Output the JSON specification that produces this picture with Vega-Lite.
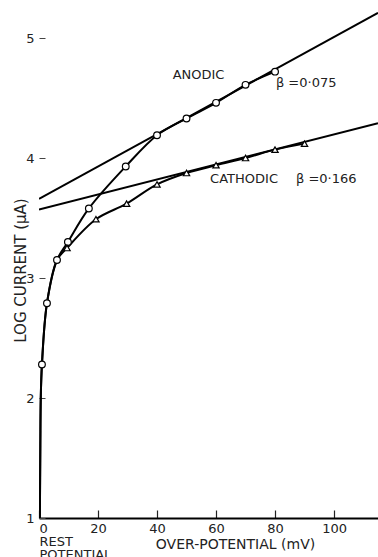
{
  "$schema": "https://vega.github.io/schema/vega-lite/v6.json",
  "width": 339,
  "height": 506,
  "autosize": "none",
  "padding": {"left": 39, "top": 12, "right": 0, "bottom": 39},
  "background": "white",
  "config": {"view": {"stroke": null}, "font": "DejaVu Sans"},
  "datasets": {
    "tafel": [
      {"series": "anodic", "mv": 0, "logI": 3.66},
      {"series": "anodic", "mv": 114.9, "logI": 5.21},
      {"series": "cathodic", "mv": 0, "logI": 3.57},
      {"series": "cathodic", "mv": 114.9, "logI": 4.29}
    ],
    "curves": [
      {"series": "anodic", "mv": 0.3, "logI": 1.0},
      {"series": "anodic", "mv": 0.45, "logI": 1.6},
      {"series": "anodic", "mv": 0.6, "logI": 2.0},
      {"series": "anodic", "mv": 1.0, "logI": 2.28},
      {"series": "anodic", "mv": 2.7, "logI": 2.79},
      {"series": "anodic", "mv": 6.1, "logI": 3.15},
      {"series": "anodic", "mv": 9.8, "logI": 3.3},
      {"series": "anodic", "mv": 16.9, "logI": 3.58},
      {"series": "anodic", "mv": 29.4, "logI": 3.93},
      {"series": "anodic", "mv": 40, "logI": 4.19},
      {"series": "anodic", "mv": 50, "logI": 4.33},
      {"series": "anodic", "mv": 60, "logI": 4.46},
      {"series": "anodic", "mv": 70, "logI": 4.61},
      {"series": "anodic", "mv": 80, "logI": 4.72},
      {"series": "cathodic", "mv": 0.3, "logI": 1.0},
      {"series": "cathodic", "mv": 0.45, "logI": 1.6},
      {"series": "cathodic", "mv": 0.6, "logI": 2.0},
      {"series": "cathodic", "mv": 1.0, "logI": 2.28},
      {"series": "cathodic", "mv": 2.7, "logI": 2.79},
      {"series": "cathodic", "mv": 6.1, "logI": 3.15},
      {"series": "cathodic", "mv": 9.5, "logI": 3.25},
      {"series": "cathodic", "mv": 19.3, "logI": 3.49},
      {"series": "cathodic", "mv": 29.7, "logI": 3.62},
      {"series": "cathodic", "mv": 40, "logI": 3.78},
      {"series": "cathodic", "mv": 50, "logI": 3.875},
      {"series": "cathodic", "mv": 60, "logI": 3.94},
      {"series": "cathodic", "mv": 70, "logI": 4.0},
      {"series": "cathodic", "mv": 80, "logI": 4.07},
      {"series": "cathodic", "mv": 90, "logI": 4.12}
    ],
    "points": [
      {"series": "anodic", "mv": 1.0, "logI": 2.28},
      {"series": "anodic", "mv": 2.7, "logI": 2.79},
      {"series": "anodic", "mv": 6.1, "logI": 3.15},
      {"series": "anodic", "mv": 9.8, "logI": 3.3},
      {"series": "anodic", "mv": 16.9, "logI": 3.58},
      {"series": "anodic", "mv": 29.4, "logI": 3.93},
      {"series": "anodic", "mv": 40, "logI": 4.19},
      {"series": "anodic", "mv": 50, "logI": 4.33},
      {"series": "anodic", "mv": 60, "logI": 4.46},
      {"series": "anodic", "mv": 70, "logI": 4.61},
      {"series": "anodic", "mv": 80, "logI": 4.72},
      {"series": "cathodic", "mv": 9.5, "logI": 3.25},
      {"series": "cathodic", "mv": 19.3, "logI": 3.49},
      {"series": "cathodic", "mv": 29.7, "logI": 3.62},
      {"series": "cathodic", "mv": 40, "logI": 3.78},
      {"series": "cathodic", "mv": 50, "logI": 3.875},
      {"series": "cathodic", "mv": 60, "logI": 3.94},
      {"series": "cathodic", "mv": 70, "logI": 4.0},
      {"series": "cathodic", "mv": 80, "logI": 4.07},
      {"series": "cathodic", "mv": 90, "logI": 4.12}
    ],
    "labels": [
      {"text": "ANODIC", "mv": 45.3, "logI": 4.69},
      {"text": "β =0·075", "mv": 80.3, "logI": 4.625},
      {"text": "CATHODIC", "mv": 58.0, "logI": 3.825},
      {"text": "β =0·166", "mv": 87.1, "logI": 3.825}
    ]
  },
  "layer": [
    {
      "data": {"name": "tafel"},
      "mark": {"type": "line", "color": "black", "strokeWidth": 2, "clip": true},
      "encoding": {
        "x": {
          "field": "mv", "type": "quantitative",
          "scale": {"domain": [0, 114.9], "nice": false, "zero": false},
          "axis": {
            "values": [0, 10, 20, 30, 40, 50, 60, 70, 80, 90, 100, 110],
            "grid": false,
            "domainColor": "black", "domainWidth": 2,
            "tickSize": -8, "tickColor": "#222", "tickWidth": 1.2,
            "labelPadding": 12,
            "labelOverlap": false,
            "labelFontSize": 13, "labelColor": "#222",
            "labelLineHeight": 13,
            "labelExpr": "datum.value == 0 ? ['0', 'REST', 'POTENTIAL'] : (datum.value % 20 == 0 ? datum.label : '')",
            "title": "OVER-POTENTIAL (mV)",
            "titleFontSize": 14, "titleFontWeight": "normal", "titleColor": "#222",
            "titleX": 196, "titleY": 26, "titleBaseline": "middle", "titleAlign": "center"
          }
        },
        "y": {
          "field": "logI", "type": "quantitative",
          "scale": {"domain": [1, 5.217], "nice": false, "zero": false},
          "axis": {
            "values": [1, 2, 3, 4, 5],
            "format": "d",
            "grid": false, "domain": false,
            "tickSize": -6, "tickColor": "#444", "tickWidth": 1,
            "labelPadding": 11,
            "labelOverlap": false,
            "labelFontSize": 13, "labelColor": "#222",
            "title": "LOG CURRENT (μA)",
            "titleFontSize": 15, "titleFontWeight": "normal", "titleColor": "#222",
            "titleAngle": -90, "titleX": -19, "titleY": 258,
            "titleBaseline": "middle", "titleAlign": "center"
          }
        },
        "detail": {"field": "series"}
      }
    },
    {
      "data": {"name": "curves"},
      "mark": {"type": "line", "color": "black", "strokeWidth": 2, "interpolate": "catmull-rom", "clip": true},
      "encoding": {
        "x": {"field": "mv", "type": "quantitative"},
        "y": {"field": "logI", "type": "quantitative"},
        "detail": {"field": "series"}
      }
    },
    {
      "data": {"name": "points"},
      "transform": [{"filter": "datum.series == 'anodic'"}],
      "mark": {"type": "point", "shape": "circle", "filled": true, "fill": "white", "stroke": "black", "strokeWidth": 1.2, "size": 45, "opacity": 1},
      "encoding": {
        "x": {"field": "mv", "type": "quantitative"},
        "y": {"field": "logI", "type": "quantitative"}
      }
    },
    {
      "data": {"name": "points"},
      "transform": [{"filter": "datum.series == 'cathodic'"}],
      "mark": {"type": "point", "shape": "triangle-up", "filled": true, "fill": "white", "stroke": "black", "strokeWidth": 1.2, "size": 40, "opacity": 1},
      "encoding": {
        "x": {"field": "mv", "type": "quantitative"},
        "y": {"field": "logI", "type": "quantitative"}
      }
    },
    {
      "mark": {"type": "rule", "color": "black", "strokeWidth": 2.5},
      "encoding": {
        "x": {"datum": 0, "type": "quantitative"},
        "y": {"datum": 1, "type": "quantitative"},
        "y2": {"datum": 5}
      }
    },
    {
      "data": {"name": "labels"},
      "mark": {"type": "text", "align": "left", "baseline": "middle", "fontSize": 13, "color": "#222"},
      "encoding": {
        "x": {"field": "mv", "type": "quantitative"},
        "y": {"field": "logI", "type": "quantitative"},
        "text": {"field": "text"}
      }
    }
  ]
}
